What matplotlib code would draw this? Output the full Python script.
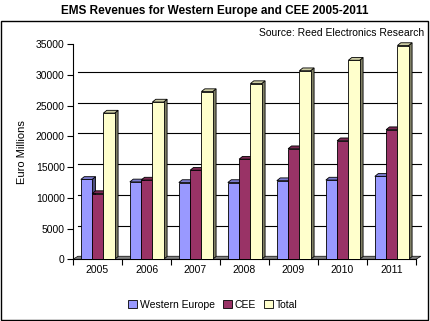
import matplotlib.pyplot as plt
from matplotlib.patches import Polygon, Rectangle
import numpy as np

plt.rcParams['font.family'] = ['Liberation Sans', 'DejaVu Sans']

# Revenue figures (Euro millions)
years = ['2005', '2006', '2007', '2008', '2009', '2010', '2011']
western_europe = [13000, 12600, 12500, 12500, 12800, 12900, 13500]
cee = [10700, 12900, 14500, 16300, 18000, 19300, 21100]
total = [23800, 25600, 27300, 28600, 30700, 32400, 34800]

series = [
    ('Western Europe', western_europe, '#9999ff', '#4d4d80', '#7a7acc'),
    ('CEE', cee, '#993366', '#4d1a33', '#7a2952'),
    ('Total', total, '#ffffcc', '#808066', '#ccccA3'),
]

fig = plt.figure(figsize=(4.3, 3.21), dpi=100)
ax = fig.add_axes([73 / 430, 61.7 / 321, 343 / 430, 215 / 321])

n = len(years)
x = np.arange(n)
bw = 0.23
dx, dy = 0.07, 450          # bar depth
wdx, wdy = 0.1, 500         # wall offset

# back wall gridlines and floor
for v in range(5000, 35000, 5000):
    ax.plot([wdx, n + wdx], [v + wdy, v + wdy], color='black', lw=0.8,
            clip_on=False, zorder=1)
ax.add_patch(Polygon([(0, 0), (n, 0), (n + wdx, wdy), (wdx, wdy)],
                     closed=True, facecolor='#808080', edgecolor='black',
                     lw=0.5, clip_on=False, zorder=1))

z = 2
for k, (name, vals, front, side, top) in enumerate(series):
    left = x + 0.16 + k * bw
    bars = ax.bar(left, vals, width=bw, align='edge', color=front,
                  edgecolor='black', lw=0.6, label=name, zorder=z + 2)
    for b in bars:
        x0, h = b.get_x(), b.get_height()
        x1 = x0 + bw
        ax.add_patch(Polygon([(x0, h), (x1, h), (x1 + dx, h + dy), (x0 + dx, h + dy)],
                             closed=True, facecolor=top, edgecolor='black',
                             lw=0.6, clip_on=False, zorder=z + 1))
        ax.add_patch(Polygon([(x1, 0), (x1 + dx, dy), (x1 + dx, h + dy), (x1, h)],
                             closed=True, facecolor=side, edgecolor='black',
                             lw=0.6, clip_on=False, zorder=z))
    z += 3

ax.set_xlim(0, n)
ax.set_ylim(0, 35000)
ax.set_yticks(range(0, 35001, 5000))
ax.set_xticks(np.arange(n + 1))
ax.set_xticklabels([])
ax.set_xticks(x + 0.5, minor=True)
ax.set_xticklabels(years, minor=True, fontsize=7.5)
ax.tick_params(axis='x', which='minor', length=0, pad=4)
ax.tick_params(axis='x', which='major', direction='out', length=4, width=0.8)
ax.tick_params(axis='y', direction='out', length=4, width=0.8, labelsize=7.5, pad=2)
for s in ['top', 'right']:
    ax.spines[s].set_visible(False)
for s in ['left', 'bottom']:
    ax.spines[s].set_linewidth(0.8)
ax.set_ylabel('Euro Millions', fontsize=8, labelpad=6)

fig.text(0.5, 1 - 11 / 321, 'EMS Revenues for Western Europe and CEE 2005-2011',
         ha='center', va='center', fontsize=8.5, fontweight='bold')
fig.text(424 / 430, 1 - 33 / 321, 'Source: Reed Electronics Research',
         ha='right', va='center', fontsize=7.5)

fig.patches.append(Rectangle((1 / 430, 1 / 321), 427 / 430, 299 / 321,
                             transform=fig.transFigure, fill=False,
                             edgecolor='black', lw=1))

ax.legend(loc='center', bbox_to_anchor=(213 / 430, 1 - 305 / 321),
          bbox_transform=fig.transFigure, ncol=3, frameon=False,
          fontsize=7.5, handlelength=0.8, handleheight=0.8,
          handletextpad=0.3, columnspacing=0.8)

fig.savefig('out.png', dpi=100)
